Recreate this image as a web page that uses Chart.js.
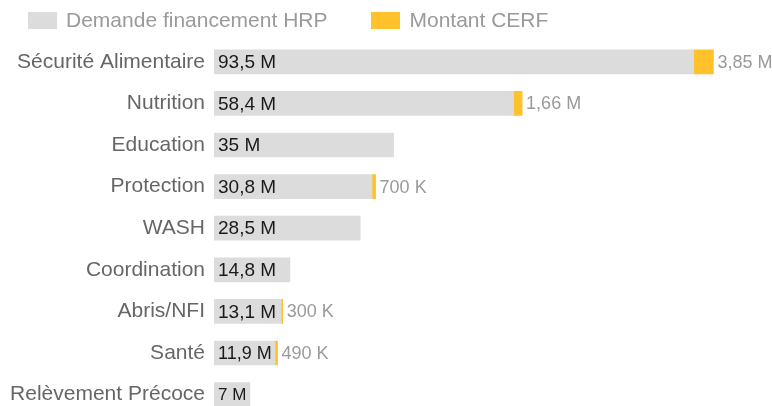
<!DOCTYPE html>
<html>
<head>
<meta charset="utf-8">
<script src="https://cdn.jsdelivr.net/npm/chart.js@4/dist/chart.umd.min.js"></script>
<style>
  html, body { margin: 0; padding: 0; background: #fff; overflow: hidden; }
  #wrap { position: relative; width: 772px; height: 406px; overflow: hidden; }
  #legend { position: absolute; top: 8px; left: 28px; font-family: "Liberation Sans", Arial, sans-serif; font-size: 21px; color: #9a9a9a; display: flex; align-items: center; }
  #legend .item { display: flex; align-items: center; margin-right: 44px; }
  #legend .box { width: 29px; height: 17px; margin-right: 9px; }
</style>
</head>
<body>
<div id="wrap">
  <div id="legend"></div>
  <canvas id="chart" width="772" height="437"></canvas>
</div>
<script>
// Sectors and funding amounts (millions USD)
const sectors = ['Sécurité Alimentaire', 'Nutrition', 'Education', 'Protection', 'WASH', 'Coordination', 'Abris/NFI', 'Santé', 'Relèvement Précoce'];
const hrpDemand = [93.5, 58.4, 35, 30.8, 28.5, 14.8, 13.1, 11.9, 7];
const cerfAmount = [3.85, 1.66, 0, 0.7, 0, 0, 0.3, 0.49, 0];

const GRAY = '#dbdcdb';
const YELLOW = '#ffc22b';
const FONT = '"Liberation Sans", Arial, sans-serif';

function fmt(v) {
  if (v >= 1) return String(v).replace('.', ',') + ' M';
  return Math.round(v * 1000) + ' K';
}

// HTML legend
const legendEl = document.getElementById('legend');
[['Demande financement HRP', GRAY], ['Montant CERF', YELLOW]].forEach(([txt, col]) => {
  const item = document.createElement('div');
  item.className = 'item';
  item.innerHTML = `<span class="box" style="background:${col}"></span><span>${txt}</span>`;
  legendEl.appendChild(item);
});

// Value labels: inside gray bars (shrunk to fit), outside yellow bars
const valueLabels = {
  id: 'valueLabels',
  afterDatasetsDraw(chart) {
    const ctx = chart.ctx;
    ctx.save();
    ctx.textBaseline = 'middle';
    ctx.textAlign = 'left';
    const gray = chart.getDatasetMeta(0).data;
    const cerf = chart.getDatasetMeta(1).data;
    gray.forEach((bar, i) => {
      const txt = fmt(hrpDemand[i]);
      let size = 19;
      ctx.font = size + 'px ' + FONT;
      while (size > 10 && ctx.measureText(txt).width > (bar.x - bar.base) - 7) {
        size--;
        ctx.font = size + 'px ' + FONT;
      }
      ctx.fillStyle = '#1a1a1a';
      ctx.fillText(txt, bar.base + 4, bar.y + 1);
      if (cerfAmount[i] > 0) {
        const c = cerf[i];
        ctx.font = '18px ' + FONT;
        ctx.fillStyle = '#9a9a9a';
        ctx.fillText(fmt(cerfAmount[i]), c.x + 4, c.y + 1);
      }
    });
    ctx.restore();
  }
};

new Chart(document.getElementById('chart'), {
  type: 'bar',
  data: {
    labels: sectors,
    datasets: [
      { label: 'Demande financement HRP', data: hrpDemand, backgroundColor: GRAY, barThickness: 24 },
      { label: 'Montant CERF', data: cerfAmount.map(v => v > 0 ? v : null), backgroundColor: YELLOW, barThickness: 24 }
    ]
  },
  options: {
    indexAxis: 'y',
    responsive: false,
    animation: false,
    layout: { padding: { top: 41, bottom: 5, left: 0, right: 45 } },
    plugins: { legend: { display: false }, tooltip: { enabled: false } },
    scales: {
      x: { stacked: true, display: false, min: 0, max: 100 },
      y: {
        stacked: true,
        grid: { display: false, drawTicks: false },
        border: { display: false },
        ticks: { color: '#666', font: { family: FONT, size: 21 }, padding: 9 },
        afterFit(scale) { scale.width = 214; }
      }
    }
  },
  plugins: [valueLabels]
});
</script>
</body>
</html>
